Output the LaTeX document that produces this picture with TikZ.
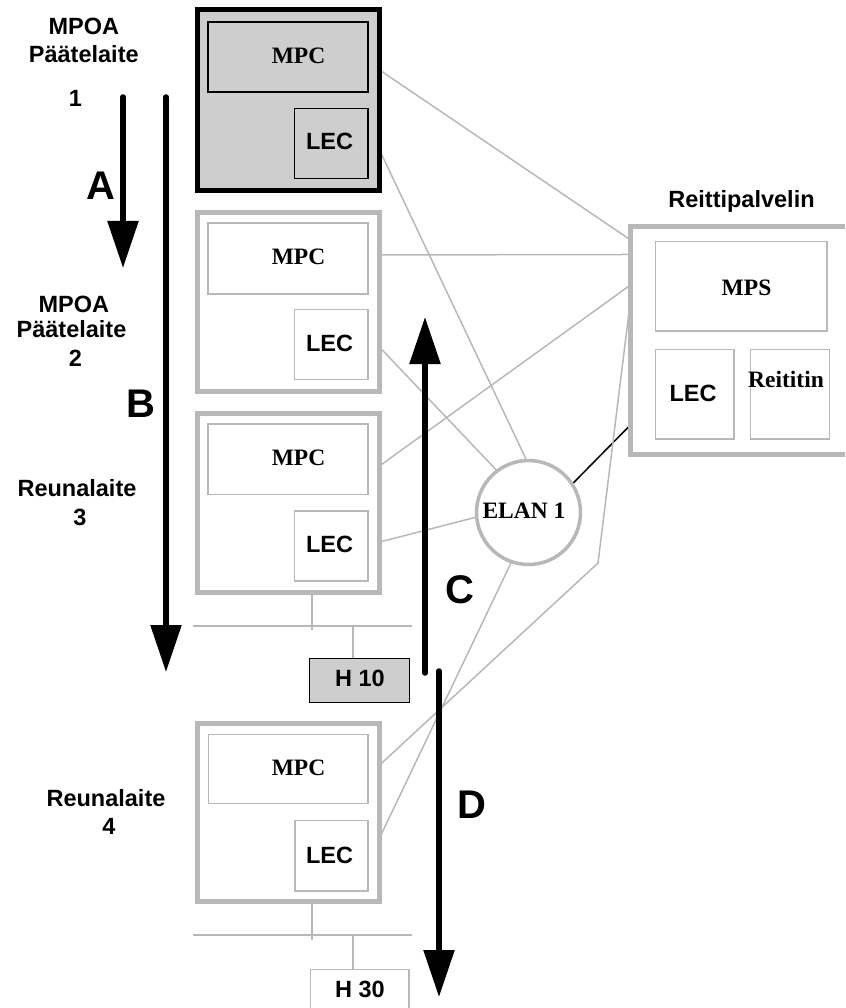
\documentclass[tikz,border=0pt]{standalone}
\usepackage{fontspec}
\setmainfont{Liberation Serif}
\newfontfamily\hv{Liberation Sans}
\usetikzlibrary{arrows.meta,calc,backgrounds,fit}
\definecolor{lgray}{RGB}{184,184,184}
\definecolor{fillgray}{RGB}{206,206,206}
\begin{document}
\begin{tikzpicture}[x=1pt,y=-1pt,
  dev/.style={draw=lgray, line width=5pt, fill=white, rectangle, inner sep=0pt, outer sep=0pt},
  devhi/.style={dev, draw=black, fill=fillgray},
  part/.style={draw=lgray, line width=1.5pt, rectangle, inner sep=0pt, outer sep=0pt},
  parthi/.style={part, draw=black},
  link/.style={draw=lgray, line width=1.5pt},
  flow/.style={line width=5.5pt, line cap=round, -{Triangle[length=47pt,width=30pt]}},
  sanslab/.style={font=\hv\bfseries\fontsize{23.5}{28}\selectfont, inner sep=0pt, anchor=base},
  serlab/.style={font=\bfseries\fontsize{23.5}{28}\selectfont, inner sep=0pt, anchor=base},
  biglab/.style={font=\hv\bfseries\fontsize{40}{48}\selectfont, inner sep=0pt, anchor=base}]
\useasboundingbox (0,0) rectangle (845,1008);
\clip (0,0) rectangle (845,1008);

% ---- devices ----
\node[devhi, fit={(197.5,9.5) (379.5,190.5)}] (b1) {};
\node[parthi, fit={(208,22) (368,92)}] (mpc1) {};
\node[parthi, fit={(294.5,108.5) (368,178.5)}] (lec1) {};

\node[dev, fit={(197.5,212.5) (379.5,391)}] (b2) {};
\node[part, fit={(208,223) (368,294)}] (mpc2) {};
\node[part, fit={(294.5,309.5) (368,379.5)}] (lec2) {};

\node[dev, fit={(197.5,413) (379.5,592.5)}] (b3) {};
\node[part, fit={(208,424) (368,494.5)}] (mpc3) {};
\node[part, fit={(294.5,511) (368,581)}] (lec3) {};

\node[dev, fit={(197.5,723.3) (379.5,901.5)}] (b4) {};
\node[part, fit={(208.5,734.5) (368,803.5)}] (mpc4) {};
\node[part, fit={(295,820.5) (368,891)}] (lec4) {};

% ---- route server ----
\node[dev, fit={(630.5,226.5) (870,454)}] (rp) {};
\node[part, fit={(655.5,241.5) (827,331)}] (mps) {};
\node[part, fit={(655.5,349.5) (734,439)}] (rlec) {};
\node[part, fit={(750.5,349.5) (829.5,439)}] (rtr) {};

% ---- hosts ----
\node[rectangle, draw=black, line width=1.5pt, fill=fillgray, inner sep=0pt, outer sep=0pt,
      fit={(309.5,658.5) (409.5,702.5)}] (h10) {};
\node[part, fill=white, fit={(310.5,969.5) (409,1030)}] (h30) {};

% ---- ELAN ----
\node[circle, draw=lgray, line width=3.5pt, fill=white, minimum size=104pt,
      inner sep=0pt, outer sep=0pt] (elan) at (528.5,512.5) {};

% ---- texts ----
\node[serlab] (tmpc1) at (298.5,63.3) {MPC};
\node[sanslab] (tlec1) at (329.5,149.3) {LEC};
\node[serlab] (tmpc2) at (298.5,264.3) {MPC};
\node[sanslab] (tlec2) at (329.5,351.7) {LEC};
\node[serlab] (tmpc3) at (298.5,465) {MPC};
\node[sanslab] (tlec3) at (329.5,552.7) {LEC};
\node[serlab] (tmpc4) at (298.5,775) {MPC};
\node[sanslab] (tlec4) at (329.5,863.3) {LEC};

\node[sanslab] (trp) at (741.5,207.3) {Reittipalvelin};
\node[serlab] (tmps) at (746.5,295) {MPS};
\node[sanslab] (trlec) at (693,401.7) {LEC};
\node[serlab] (trtr) at (786,387.5) {Reititin};
\node[serlab] (telan) at (524,518.5) {ELAN 1};
\node[sanslab] (th10) at (360,686.7) {H 10};
\node[sanslab] (th30) at (360,997) {H 30};

\node[sanslab] (l1a) at (83.8,35) {MPOA};
\node[sanslab] (l1b) at (83.8,63) {Päätelaite};
\node[sanslab] (l1c) at (75.5,107) {1};
\node[sanslab] (l2a) at (73.8,312) {MPOA};
\node[sanslab] (l2b) at (71.5,337.7) {Päätelaite};
\node[sanslab] (l2c) at (75.5,366.7) {2};
\node[sanslab] (l3a) at (77,496.7) {Reunalaite};
\node[sanslab] (l3b) at (80,525) {3};
\node[sanslab] (l4a) at (106,806) {Reunalaite};
\node[sanslab] (l4b) at (109,834) {4};

\node[biglab] (la) at (100.5,200) {A};
\node[biglab] (lb) at (140.5,417) {B};
\node[biglab] (lc) at (460,603) {C};
\node[biglab] (ld) at (471.5,818) {D};

% ---- free ends of the segments ----
\coordinate (bend) at (598,563);
\coordinate (bus3w) at (193,626);
\coordinate (bus3e) at (412,626);
\coordinate (drop3) at (312,630);
\coordinate (tap3) at (353,626);
\coordinate (bus4w) at (193,935);
\coordinate (bus4e) at (412,935);
\coordinate (drop4) at (312,940);
\coordinate (tap4) at (353,935);

% ---- links behind the boxes ----
\begin{scope}[on background layer]
  \draw[link] ($(b1.north east)!.334!(b1.south east)$) -- ($(rp.north west)!.059!(rp.south west)$);
  \draw[link] ($(b1.north east)!.776!(b1.south east)$) -- (elan.92);
  \draw[link] ($(b2.north east)!.238!(b2.south east)$) -- ($(rp.north west)!.123!(rp.south west)$);
  \draw[link] ($(b2.north east)!.754!(b2.south east)$) -- (elan.127);
  \draw[link] ($(b3.north east)!.295!(b3.south east)$) -- ($(rp.north west)!.257!(rp.south west)$);
  \draw[link] ($(b3.north east)!.719!(b3.south east)$) -- (elan.185);
  \draw[line width=1.5pt] (elan.33) -- ($(rp.north west)!.872!(rp.south west)$);
  \draw[link] ($(b4.north east)!.235!(b4.south east)$) -- (bend) -- ($(rp.north west)!.323!(rp.south west)$);
  \draw[link] ($(b4.north east)!.644!(b4.south east)$) -- (elan.251);
  % LAN segments
  \draw[link] (bus3w) -- (bus3e);
  \draw[link] (b3.south -| drop3) -- (drop3);
  \draw[link] (tap3) -- (tap3 |- h10.north);
  \draw[link] (bus4w) -- (bus4e);
  \draw[link] (b4.south -| drop4) -- (drop4);
  \draw[link] (tap4) -- (tap4 |- h30.north);
\end{scope}

% ---- traffic flows ----
\coordinate (aS) at (123,97);   \coordinate (aE) at (123,268);
\coordinate (bS) at (166,97);   \coordinate (bE) at (166,672);
\coordinate (cS) at (425,673);  \coordinate (cE) at (425,317);
\coordinate (dS) at (439,671);  \coordinate (dE) at (439,997);
\draw[flow] (aS) -- (aE);
\draw[flow] (bS) -- (bE);
\draw[flow] (cS) -- (cE);
\draw[flow] (dS) -- (dE);
\end{tikzpicture}
\end{document}
